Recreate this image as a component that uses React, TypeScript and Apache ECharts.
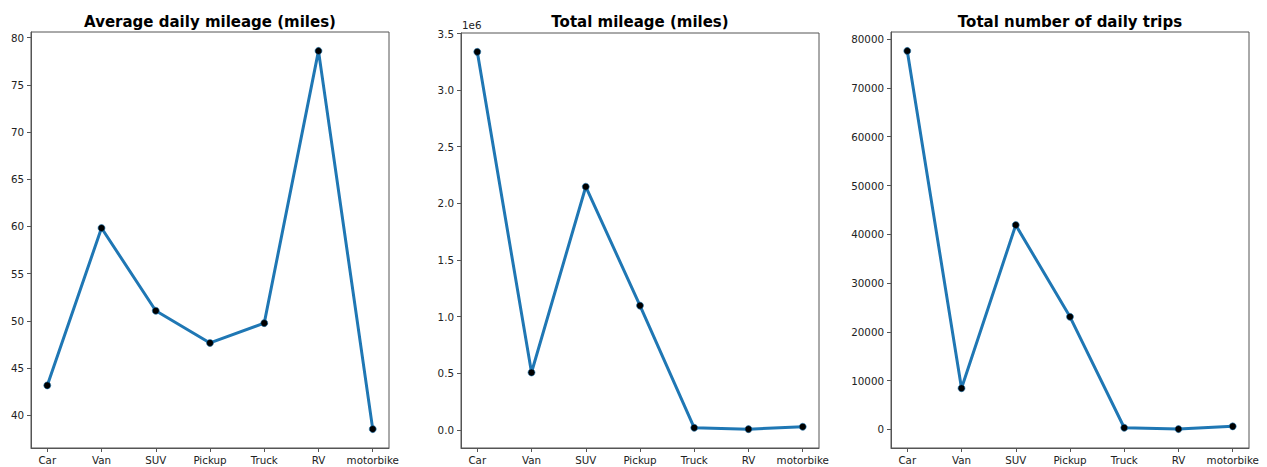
import React, { useEffect, useRef } from "react";
import * as echarts from "echarts";

// Vehicle categories along every x axis
const vehicleTypes = ["Car", "Van", "SUV", "Pickup", "Truck", "RV", "motorbike"];

// Average daily mileage per vehicle type (miles)
const avgDailyMileage = [43.15, 59.83, 51.06, 47.65, 49.75, 78.6, 38.52];

// Total mileage per vehicle type (miles)
const totalMileage = [3338000, 506000, 2147000, 1097000, 18000, 6000, 27000];

// Total number of daily trips per vehicle type
const dailyTrips = [77600, 8440, 41900, 23080, 330, 60, 620];

// Tick values shown on each y axis
const avgTicks = [40, 45, 50, 55, 60, 65, 70, 75, 80];
const totalTicks = [0, 500000, 1000000, 1500000, 2000000, 2500000, 3000000, 3500000];
const tripTicks = [0, 10000, 20000, 30000, 40000, 50000, 60000, 70000, 80000];

const panelTitles = [
  "Average daily mileage (miles)",
  "Total mileage (miles)",
  "Total number of daily trips",
];

const FONT = "DejaVu Sans";
const LINE_BLUE = "#1f77b4";
const FRAME = "#555555";
const TEXT = "#222222";

// y ranges padded by 5% of the data span, like the default plot margins
function paddedRange(values: number[]) {
  const lo = Math.min(...values);
  const hi = Math.max(...values);
  const pad = (hi - lo) * 0.05;
  return [lo - pad, hi + pad];
}

export default function App() {
  const ref = useRef<HTMLDivElement>(null);

  useEffect(() => {
    if (!ref.current) return;
    const chart = echarts.init(ref.current, null, { renderer: "svg" });

    const xIdx = vehicleTypes.map((_, i) => i);
    const grids = [
      { left: 31, top: 32, width: 358, height: 416 },
      { left: 461, top: 33, width: 358, height: 415 },
      { left: 891, top: 32, width: 358, height: 416 },
    ];
    const seriesValues = [avgDailyMileage, totalMileage, dailyTrips];
    const yTicks = [avgTicks, totalTicks, tripTicks];
    const yFormat = [
      (v: number) => String(Math.round(v)),
      (v: number) => (v / 1e6).toFixed(1),
      (v: number) => String(Math.round(v)),
    ];

    const option: any = {
      animation: false,
      backgroundColor: "#ffffff",
      grid: grids.map((g) => ({
        ...g,
        show: true,
        borderColor: FRAME,
        borderWidth: 1,
        backgroundColor: "transparent",
        containLabel: false,
      })),
      xAxis: grids.map((_, k) => ({
        type: "value",
        gridIndex: k,
        min: -0.3,
        max: 6.3,
        axisLine: { show: true, onZero: false, lineStyle: { color: FRAME, width: 1 } },
        axisTick: {
          show: true,
          length: 4,
          customValues: xIdx,
          lineStyle: { color: FRAME },
        },
        axisLabel: {
          customValues: xIdx,
          formatter: (v: number) => vehicleTypes[Math.round(v)] ?? "",
          color: TEXT,
          fontFamily: FONT,
          fontSize: 10.3,
          margin: 7,
          hideOverlap: false,
        },
        splitLine: { show: false },
      })),
      yAxis: grids.map((_, k) => {
        const [mn, mx] = paddedRange(seriesValues[k]);
        return {
          type: "value",
          gridIndex: k,
          min: mn,
          max: mx,
          axisLine: { show: true, onZero: false, lineStyle: { color: FRAME, width: 1 } },
          axisTick: {
            show: true,
            length: 4,
            customValues: yTicks[k],
            lineStyle: { color: FRAME },
          },
          axisLabel: {
            customValues: yTicks[k],
            formatter: yFormat[k],
            color: TEXT,
            fontFamily: FONT,
            fontSize: 10.3,
            margin: 7,
            hideOverlap: false,
          },
          splitLine: { show: false },
        };
      }),
      series: seriesValues.map((vals, k) => ({
        type: "line",
        xAxisIndex: k,
        yAxisIndex: k,
        data: vals.map((v, i) => [i, v]),
        lineStyle: { color: LINE_BLUE, width: 3 },
        symbol: "circle",
        symbolSize: 7,
        showSymbol: true,
        itemStyle: { color: "#000000", borderColor: LINE_BLUE, borderWidth: 0.6 },
        z: 3,
      })),
      graphic: [
        ...panelTitles.map((t, k) => ({
          type: "text",
          x: grids[k].left + grids[k].width / 2,
          y: 21.5,
          style: {
            text: t,
            fontFamily: FONT,
            fontWeight: "bold",
            fontSize: 15,
            fill: "#000000",
            textAlign: "center",
            textVerticalAlign: "middle",
          },
        })),
        {
          type: "text",
          x: 462,
          y: 25,
          style: {
            text: "1e6",
            fontFamily: FONT,
            fontSize: 10.3,
            fill: TEXT,
            textAlign: "left",
            textVerticalAlign: "middle",
          },
        },
      ],
    };

    chart.setOption(option);
    return () => chart.dispose();
  }, []);

  return (
    <div
      ref={ref}
      style={{ position: "fixed", left: 0, top: 0, width: 1267, height: 467, background: "#fff" }}
    />
  );
}
